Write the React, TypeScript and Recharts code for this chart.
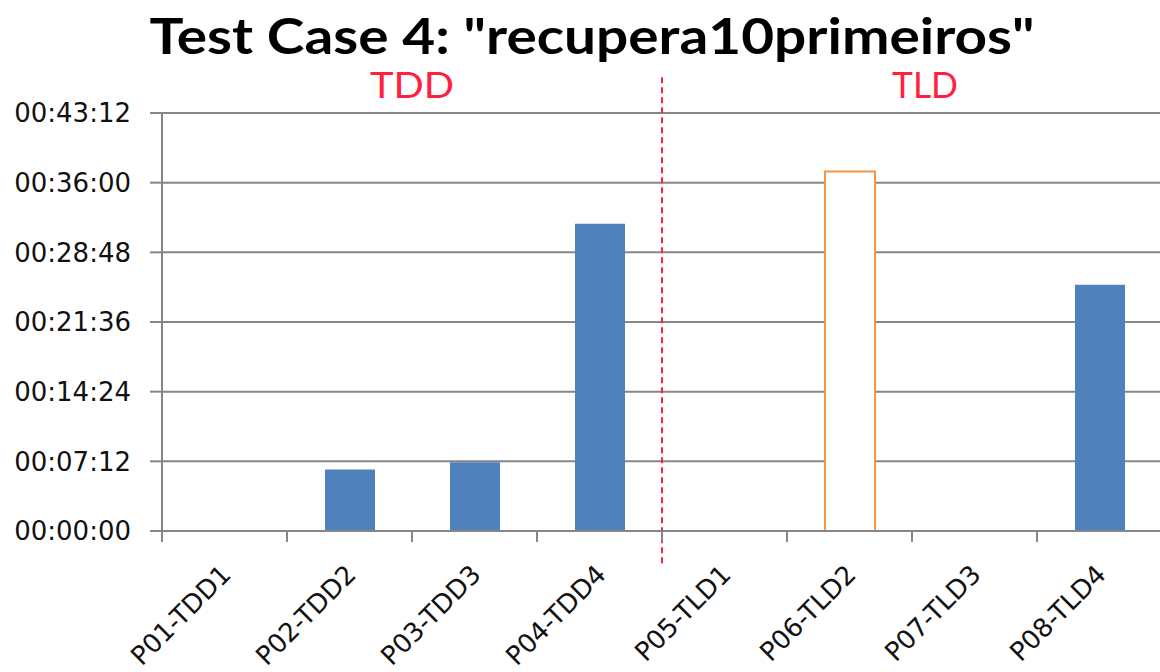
import React from 'react';
import {
  BarChart,
  Bar,
  XAxis,
  YAxis,
  CartesianGrid,
  ReferenceLine,
  Cell,
} from 'recharts';

// participants on the x axis
const participants = [
  'P01-TDD1',
  'P02-TDD2',
  'P03-TDD3',
  'P04-TDD4',
  'P05-TLD1',
  'P06-TLD2',
  'P07-TLD3',
  'P08-TLD4',
];

// time spent, in seconds
const durationSeconds = [0, 382, 427, 1906, 0, 2230, 0, 1527];

// the bar drawn as an outline only
const outlined = ['P06-TLD2'];

// y ticks, every 7:12
const yTicks = [0, 432, 864, 1296, 1728, 2160, 2592];

const title = 'Test Case 4: "recupera10primeiros"';
const groupLabels = ['TDD', 'TLD'];

const WIDTH = 1160;
const HEIGHT = 672;
const Y_AXIS_WIDTH = 162;
const PLOT_RIGHT = -2;
const BAND = (WIDTH - Y_AXIS_WIDTH - PLOT_RIGHT) / participants.length;

const gridGray = '#868686';
const blue = '#4f81bd';
const orange = '#f79646';
const red = '#ff2040';

const data = participants.map((name, i) => ({ name, value: durationSeconds[i] }));

const pad = (n: number) => String(n).padStart(2, '0');
const formatTime = (s: number) =>
  `${pad(Math.floor(s / 3600))}:${pad(Math.floor((s % 3600) / 60))}:${pad(s % 60)}`;

const ParticipantTick = ({ x, y, payload }: any) => {
  const lx = x + 8;
  const ly = y + 45;
  return (
    <g>
      <line x1={x - BAND / 2} x2={x - BAND / 2} y1={y} y2={y + 11} stroke={gridGray} strokeWidth={2} />
      <text
        x={lx}
        y={ly}
        transform={`rotate(-45, ${lx}, ${ly})`}
        textAnchor="end"
        fontSize={26}
        fontFamily="'DejaVu Sans', sans-serif"
        fill="#111"
      >
        {payload.value}
      </text>
    </g>
  );
};

export default function App() {
  return (
    <div
      style={{
        position: 'absolute',
        left: 0,
        top: 0,
        width: WIDTH,
        height: HEIGHT,
        background: '#fff',
        overflow: 'hidden',
      }}
    >
      <BarChart
        width={WIDTH}
        height={HEIGHT}
        data={data}
        margin={{ top: 113, right: PLOT_RIGHT, bottom: 0, left: 0 }}
      >
        <CartesianGrid vertical={false} stroke={gridGray} strokeWidth={2} />
        <XAxis
          dataKey="name"
          height={141}
          interval={0}
          tickLine={false}
          tickSize={0}
          tickMargin={0}
          axisLine={{ stroke: gridGray, strokeWidth: 2 }}
          tick={<ParticipantTick />}
        />
        <YAxis
          width={Y_AXIS_WIDTH}
          domain={[0, 2592]}
          ticks={yTicks}
          tickFormatter={formatTime}
          tickSize={12}
          tickMargin={19}
          tickLine={{ stroke: gridGray, strokeWidth: 2 }}
          axisLine={{ stroke: gridGray, strokeWidth: 2 }}
          tick={{ fill: '#111', fontSize: 26, fontFamily: "'DejaVu Sans', sans-serif" }}
        />
        <Bar dataKey="value" barSize={50} isAnimationActive={false}>
          {data.map((d) =>
            outlined.includes(d.name) ? (
              <Cell key={d.name} fill="#fff" stroke={orange} strokeWidth={2} />
            ) : (
              <Cell key={d.name} fill={blue} />
            )
          )}
        </Bar>
        <ReferenceLine
          position="start"
          segment={[
            { x: 'P05-TLD1', y: -200 },
            { x: 'P05-TLD1', y: 2830 },
          ]}
          ifOverflow="visible"
          stroke={red}
          strokeWidth={2}
          strokeDasharray="6 4"
        />
      </BarChart>
      <svg
        width={WIDTH}
        height={HEIGHT}
        style={{ position: 'absolute', left: 0, top: 0, pointerEvents: 'none' }}
      >
        <text
          x={592}
          y={54}
          textAnchor="middle"
          fontSize={50}
          fontWeight={700}
          fontFamily="Lato, sans-serif"
          fill="#000"
          textLength={885}
          lengthAdjust="spacingAndGlyphs"
        >
          {title}
        </text>
        <text
          x={412}
          y={98}
          textAnchor="middle"
          fontSize={36}
          fontFamily="Lato, sans-serif"
          fill={red}
          textLength={84}
          lengthAdjust="spacingAndGlyphs"
        >
          {groupLabels[0]}
        </text>
        <text
          x={925}
          y={98}
          textAnchor="middle"
          fontSize={36}
          fontFamily="Lato, sans-serif"
          fill={red}
          textLength={66}
          lengthAdjust="spacingAndGlyphs"
        >
          {groupLabels[1]}
        </text>
      </svg>
    </div>
  );
}
